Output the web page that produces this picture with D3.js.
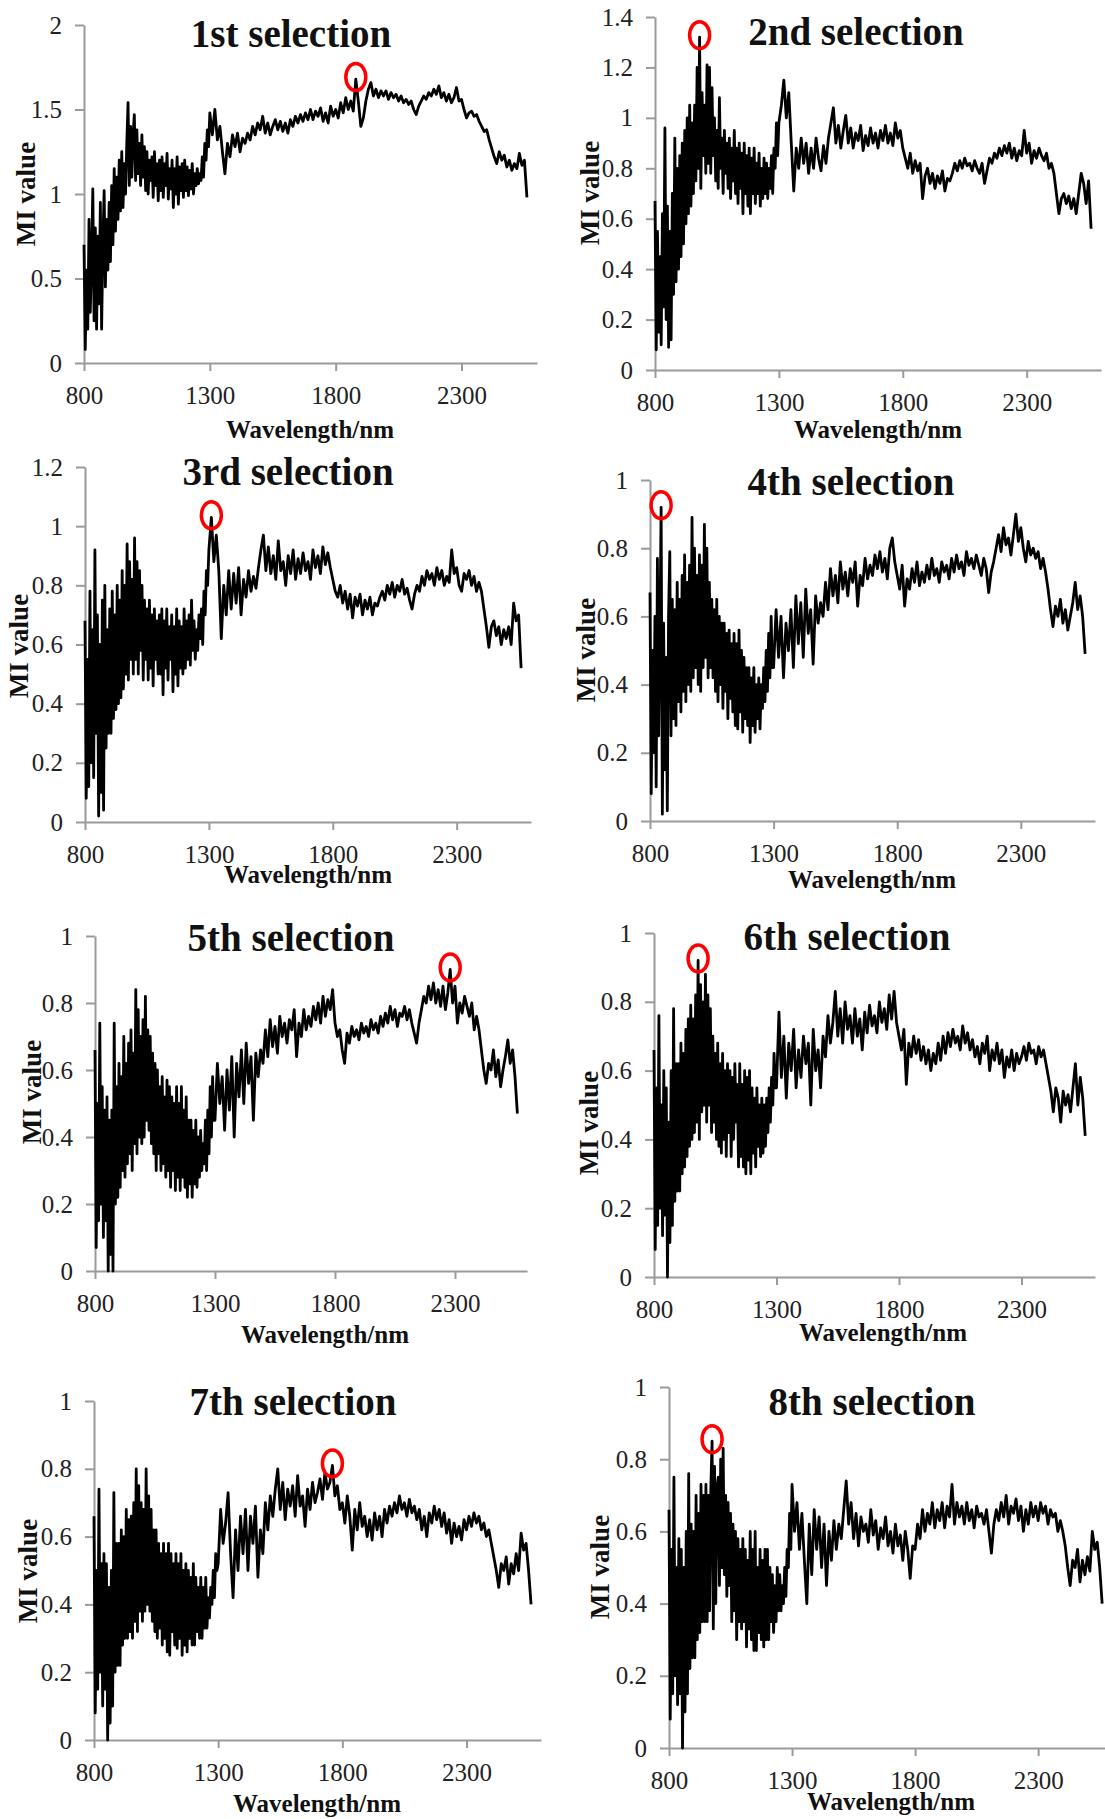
<!DOCTYPE html>
<meta charset="utf-8">
<head>
<style>
body { margin: 0; background: #fff; }
svg { display: block; }
.axis path, .axis line { stroke: #9a9a9a; stroke-width: 2px; }
.axis text { font-family: "Liberation Serif", "Times New Roman", serif; font-size: 25px; fill: #222; }
.title { font-family: "Liberation Serif", "Times New Roman", serif; font-size: 39px; font-weight: bold; fill: #111; }
.lab { font-family: "Liberation Serif", "Times New Roman", serif; font-weight: bold; fill: #111; }
.serie { fill: none; stroke: #000; stroke-width: 2.8px; stroke-linejoin: round; }
.pick { fill: none; stroke: #f00; stroke-width: 3.5px; }
</style>
</head>
<body>
<script src="https://cdnjs.cloudflare.com/ajax/libs/d3/7.8.5/d3.min.js"></script>
<svg id="chart" width="1105" height="1819"></svg>

<script>

// wavelength grid, nm: 5 nm steps below 1300, 10 nm above
var waves = d3.range(800, 1300, 5).concat(d3.range(1300, 2561, 10));
var xTicks = [800, 1300, 1800, 2300];

var titles = ["1st selection", "2nd selection", "3rd selection", "4th selection",
              "5th selection", "6th selection", "7th selection", "8th selection"];
var yMax = [2, 1.4, 1.2, 1, 1, 1, 1, 1];
var yStep = [0.5, 0.2, 0.2, 0.2, 0.2, 0.2, 0.2, 0.2];
// wavelength picked in each round (red circle)
var picks = [1880, 980, 1310, 845, 2280, 980, 1760, 975];

// MI values, one per wavelength
var s1 = [0.70, 0.08, 0.55, 0.20, 0.85, 0.30, 0.62, 1.03, 0.25, 0.80,
  0.20, 0.75, 0.35, 0.95, 0.20, 0.70, 1.02, 0.45, 0.85, 0.55,
  0.95, 0.60, 1.05, 0.70, 1.15, 0.78, 1.10, 0.85, 1.20, 0.90,
  1.25, 0.92, 1.18, 1.00, 1.30, 1.54, 1.05, 1.40, 1.10, 1.35,
  1.47, 1.08, 1.38, 1.12, 1.30, 1.05, 1.35, 1.10, 1.28, 1.02,
  1.25, 1.00, 1.20, 1.08, 1.22, 0.98, 1.25, 1.05, 1.18, 0.96,
  1.20, 1.02, 1.22, 0.98, 1.18, 1.05, 1.24, 0.97, 1.15, 1.03,
  1.20, 0.92, 1.15, 1.00, 1.22, 0.94, 1.16, 1.02, 1.18, 0.98,
  1.20, 1.02, 1.16, 0.99, 1.14, 1.03, 1.18, 1.00, 1.12, 1.05,
  1.15, 1.06, 1.12, 1.08, 1.22, 1.10, 1.30, 1.20, 1.38, 1.28,
  1.48, 1.35, 1.50, 1.32, 1.40, 1.25, 1.12, 1.30, 1.22, 1.35,
  1.28, 1.36, 1.25, 1.33, 1.30, 1.36, 1.32, 1.40, 1.35, 1.42,
  1.38, 1.46, 1.36, 1.42, 1.35, 1.40, 1.44, 1.38, 1.43, 1.37,
  1.42, 1.36, 1.44, 1.40, 1.46, 1.42, 1.47, 1.43, 1.48, 1.44,
  1.50, 1.44, 1.49, 1.46, 1.51, 1.43, 1.48, 1.42, 1.52, 1.46,
  1.50, 1.45, 1.54, 1.48, 1.57, 1.50, 1.55, 1.49, 1.68, 1.55,
  1.40, 1.45, 1.55, 1.62, 1.66, 1.58, 1.62, 1.57, 1.61, 1.58,
  1.61, 1.56, 1.60, 1.57, 1.59, 1.55, 1.58, 1.54, 1.56, 1.53,
  1.55, 1.50, 1.47, 1.52, 1.55, 1.58, 1.56, 1.60, 1.58, 1.62,
  1.59, 1.64, 1.57, 1.60, 1.55, 1.59, 1.54, 1.57, 1.63, 1.55,
  1.56, 1.50, 1.45, 1.48, 1.49, 1.46, 1.47, 1.43, 1.40, 1.37,
  1.38, 1.32, 1.27, 1.22, 1.18, 1.25, 1.20, 1.23, 1.16, 1.20,
  1.14, 1.18, 1.15, 1.24, 1.17, 1.20, 0.98];

var s2 = [0.67, 0.08, 0.55, 0.15, 0.45, 0.10, 0.62, 0.25, 0.96, 0.20,
  0.65, 0.09, 0.55, 0.12, 0.70, 0.30, 0.92, 0.35, 0.80, 0.40,
  0.85, 0.45, 0.90, 0.50, 0.95, 0.58, 1.00, 0.62, 1.05, 0.65,
  0.98, 0.70, 1.05, 0.75, 1.20, 0.80, 1.32, 0.72, 1.10, 0.85,
  1.05, 0.78, 1.21, 0.82, 1.20, 0.78, 1.12, 0.85, 1.00, 0.75,
  0.95, 0.72, 1.08, 0.80, 0.92, 0.70, 0.95, 0.78, 0.90, 0.72,
  0.92, 0.68, 0.88, 0.75, 0.95, 0.70, 0.88, 0.66, 0.90, 0.72,
  0.86, 0.62, 0.90, 0.70, 0.85, 0.65, 0.88, 0.62, 0.84, 0.70,
  0.88, 0.66, 0.82, 0.70, 0.86, 0.65, 0.80, 0.68, 0.84, 0.70,
  0.82, 0.68, 0.80, 0.72, 0.85, 0.70, 0.88, 0.80, 0.98, 0.85,
  0.98, 1.05, 1.15, 1.00, 1.10, 0.90, 0.71, 0.88, 0.80, 0.92,
  0.82, 0.90, 0.78, 0.88, 0.80, 0.92, 0.84, 0.79, 0.89, 0.82,
  0.92, 0.98, 1.04, 0.90, 0.97, 0.88, 0.95, 1.01, 0.90, 0.96,
  0.88, 0.94, 0.91, 0.97, 0.87, 0.93, 0.89, 0.96, 0.90, 0.94,
  0.88, 0.95, 0.91, 0.97, 0.90, 0.94, 0.89, 0.98, 0.92, 0.95,
  0.88, 0.84, 0.80, 0.86, 0.78, 0.83, 0.79, 0.82, 0.68, 0.77,
  0.80, 0.74, 0.78, 0.72, 0.77, 0.74, 0.79, 0.71, 0.76, 0.75,
  0.78, 0.82, 0.79, 0.83, 0.80, 0.84, 0.81, 0.82, 0.79, 0.83,
  0.80, 0.78, 0.82, 0.74, 0.79, 0.84, 0.82, 0.86, 0.84, 0.88,
  0.85, 0.89, 0.86, 0.90, 0.84, 0.88, 0.83, 0.87, 0.85, 0.95,
  0.86, 0.90, 0.82, 0.87, 0.84, 0.88, 0.85, 0.83, 0.86, 0.80,
  0.82, 0.78, 0.70, 0.62, 0.68, 0.70, 0.66, 0.69, 0.64, 0.68,
  0.62, 0.70, 0.78, 0.74, 0.66, 0.75, 0.56];

var s3 = [0.68, 0.08, 0.55, 0.12, 0.78, 0.20, 0.65, 0.15, 0.92, 0.30,
  0.70, 0.02, 0.60, 0.10, 0.75, 0.04, 0.80, 0.25, 0.65, 0.30,
  0.72, 0.30, 0.78, 0.35, 0.70, 0.38, 0.80, 0.40, 0.75, 0.42,
  0.85, 0.45, 0.80, 0.50, 0.94, 0.48, 0.88, 0.55, 0.82, 0.50,
  0.96, 0.55, 0.88, 0.50, 0.85, 0.58, 0.80, 0.48, 0.75, 0.55,
  0.72, 0.48, 0.75, 0.52, 0.70, 0.46, 0.72, 0.55, 0.68, 0.50,
  0.70, 0.50, 0.72, 0.43, 0.68, 0.52, 0.72, 0.48, 0.66, 0.55,
  0.70, 0.44, 0.66, 0.50, 0.72, 0.46, 0.68, 0.52, 0.66, 0.50,
  0.72, 0.52, 0.68, 0.55, 0.70, 0.53, 0.75, 0.58, 0.68, 0.55,
  0.65, 0.58, 0.70, 0.62, 0.72, 0.60, 0.78, 0.70, 0.85, 0.80,
  0.92, 1.03, 0.88, 0.97, 0.85, 0.62, 0.80, 0.70, 0.85, 0.72,
  0.84, 0.74, 0.86, 0.70, 0.82, 0.76, 0.85, 0.78, 0.83, 0.79,
  0.86, 0.92, 0.97, 0.85, 0.93, 0.84, 0.90, 0.82, 0.95, 0.85,
  0.88, 0.80, 0.90, 0.84, 0.92, 0.82, 0.89, 0.84, 0.91, 0.85,
  0.88, 0.82, 0.92, 0.86, 0.90, 0.84, 0.93, 0.87, 0.91, 0.86,
  0.82, 0.78, 0.76, 0.80, 0.74, 0.78, 0.72, 0.77, 0.69, 0.76,
  0.73, 0.77, 0.70, 0.75, 0.72, 0.76, 0.70, 0.74, 0.73, 0.76,
  0.78, 0.75, 0.80, 0.77, 0.81, 0.76, 0.80, 0.78, 0.82, 0.77,
  0.79, 0.75, 0.72, 0.77, 0.80, 0.78, 0.83, 0.80, 0.85, 0.82,
  0.84, 0.80, 0.86, 0.82, 0.85, 0.80, 0.83, 0.81, 0.92, 0.84,
  0.86, 0.80, 0.78, 0.84, 0.82, 0.85, 0.80, 0.83, 0.78, 0.81,
  0.78, 0.72, 0.66, 0.59, 0.66, 0.68, 0.63, 0.66, 0.60, 0.65,
  0.62, 0.66, 0.60, 0.74, 0.68, 0.70, 0.52];

var s4 = [0.67, 0.08, 0.50, 0.20, 0.60, 0.10, 0.77, 0.25, 0.55, 0.92,
  0.02, 0.58, 0.15, 0.48, 0.03, 0.60, 0.79, 0.25, 0.65, 0.30,
  0.62, 0.28, 0.70, 0.35, 0.65, 0.32, 0.72, 0.38, 0.78, 0.35,
  0.70, 0.40, 0.75, 0.38, 0.89, 0.42, 0.80, 0.45, 0.72, 0.40,
  0.78, 0.38, 0.75, 0.45, 0.87, 0.48, 0.80, 0.42, 0.70, 0.45,
  0.65, 0.42, 0.62, 0.38, 0.65, 0.35, 0.60, 0.40, 0.58, 0.33,
  0.58, 0.38, 0.55, 0.30, 0.56, 0.36, 0.52, 0.32, 0.55, 0.28,
  0.52, 0.27, 0.56, 0.32, 0.50, 0.26, 0.48, 0.30, 0.45, 0.28,
  0.45, 0.23, 0.42, 0.28, 0.45, 0.26, 0.40, 0.30, 0.42, 0.27,
  0.40, 0.33, 0.45, 0.35, 0.50, 0.38, 0.55, 0.42, 0.60, 0.45,
  0.45, 0.62, 0.48, 0.60, 0.42, 0.58, 0.50, 0.62, 0.45, 0.66,
  0.52, 0.64, 0.48, 0.68, 0.55, 0.62, 0.46, 0.66, 0.58, 0.64,
  0.60, 0.70, 0.62, 0.74, 0.66, 0.72, 0.64, 0.76, 0.68, 0.73,
  0.66, 0.74, 0.70, 0.76, 0.63, 0.72, 0.69, 0.77, 0.71, 0.75,
  0.72, 0.78, 0.74, 0.79, 0.73, 0.77, 0.71, 0.80, 0.83, 0.76,
  0.72, 0.68, 0.75, 0.63, 0.71, 0.68, 0.74, 0.70, 0.76, 0.69,
  0.73, 0.70, 0.75, 0.71, 0.77, 0.72, 0.74, 0.70, 0.76, 0.73,
  0.75, 0.71, 0.77, 0.73, 0.78, 0.74, 0.76, 0.72, 0.79, 0.75,
  0.77, 0.74, 0.78, 0.75, 0.72, 0.77, 0.74, 0.67, 0.73, 0.76,
  0.80, 0.84, 0.79, 0.86, 0.81, 0.83, 0.78, 0.84, 0.90, 0.82,
  0.86, 0.80, 0.76, 0.82, 0.78, 0.80, 0.77, 0.79, 0.74, 0.77,
  0.73, 0.68, 0.62, 0.57, 0.63, 0.60, 0.65, 0.58, 0.62, 0.56,
  0.60, 0.64, 0.70, 0.62, 0.66, 0.60, 0.49];

var s5 = [0.66, 0.07, 0.50, 0.15, 0.74, 0.20, 0.55, 0.10, 0.48, 0.15,
  0.52, 0.00, 0.45, 0.05, 0.48, 0.00, 0.74, 0.20, 0.55, 0.22,
  0.62, 0.25, 0.58, 0.30, 0.70, 0.28, 0.62, 0.32, 0.68, 0.35,
  0.72, 0.30, 0.65, 0.38, 0.84, 0.35, 0.78, 0.40, 0.70, 0.38,
  0.75, 0.40, 0.82, 0.45, 0.72, 0.42, 0.70, 0.38, 0.65, 0.35,
  0.62, 0.30, 0.60, 0.35, 0.55, 0.30, 0.58, 0.32, 0.52, 0.28,
  0.57, 0.30, 0.55, 0.25, 0.52, 0.30, 0.50, 0.24, 0.55, 0.28,
  0.50, 0.24, 0.55, 0.28, 0.48, 0.25, 0.52, 0.22, 0.45, 0.26,
  0.45, 0.22, 0.42, 0.26, 0.45, 0.25, 0.40, 0.28, 0.42, 0.30,
  0.38, 0.32, 0.45, 0.30, 0.48, 0.35, 0.55, 0.40, 0.58, 0.45,
  0.45, 0.62, 0.50, 0.58, 0.42, 0.60, 0.48, 0.64, 0.40, 0.62,
  0.52, 0.66, 0.50, 0.68, 0.56, 0.64, 0.45, 0.65, 0.58, 0.66,
  0.62, 0.72, 0.64, 0.75, 0.67, 0.73, 0.65, 0.76, 0.70, 0.74,
  0.68, 0.75, 0.72, 0.78, 0.64, 0.74, 0.70, 0.78, 0.72, 0.76,
  0.73, 0.79, 0.75, 0.80, 0.74, 0.82, 0.76, 0.81, 0.78, 0.84,
  0.74, 0.70, 0.72, 0.66, 0.62, 0.71, 0.68, 0.73, 0.70, 0.72,
  0.69, 0.74, 0.71, 0.73, 0.70, 0.75, 0.72, 0.74, 0.71, 0.76,
  0.73, 0.77, 0.74, 0.79, 0.75, 0.78, 0.73, 0.77, 0.76, 0.79,
  0.75, 0.78, 0.74, 0.71, 0.68, 0.74, 0.78, 0.82, 0.80, 0.85,
  0.81, 0.86, 0.80, 0.84, 0.79, 0.85, 0.78, 0.83, 0.90, 0.80,
  0.85, 0.74, 0.80, 0.77, 0.82, 0.79, 0.76, 0.80, 0.72, 0.76,
  0.72, 0.66, 0.60, 0.56, 0.62, 0.60, 0.66, 0.58, 0.63, 0.55,
  0.60, 0.64, 0.69, 0.62, 0.66, 0.58, 0.47];

var s6 = [0.66, 0.08, 0.55, 0.15, 0.76, 0.20, 0.50, 0.12, 0.60, 0.18,
  0.55, 0.00, 0.45, 0.10, 0.60, 0.15, 0.78, 0.22, 0.62, 0.25,
  0.62, 0.25, 0.68, 0.30, 0.65, 0.32, 0.72, 0.35, 0.75, 0.38,
  0.79, 0.40, 0.75, 0.42, 0.82, 0.45, 0.92, 0.40, 0.85, 0.48,
  0.80, 0.50, 0.88, 0.45, 0.82, 0.50, 0.78, 0.42, 0.70, 0.45,
  0.65, 0.40, 0.68, 0.38, 0.62, 0.36, 0.65, 0.40, 0.60, 0.35,
  0.62, 0.42, 0.60, 0.35, 0.58, 0.40, 0.62, 0.45, 0.56, 0.32,
  0.62, 0.35, 0.56, 0.32, 0.60, 0.30, 0.58, 0.34, 0.60, 0.30,
  0.55, 0.36, 0.52, 0.32, 0.55, 0.38, 0.50, 0.35, 0.52, 0.36,
  0.50, 0.38, 0.52, 0.42, 0.55, 0.45, 0.58, 0.50, 0.65, 0.55,
  0.55, 0.77, 0.58, 0.70, 0.52, 0.68, 0.60, 0.72, 0.55, 0.66,
  0.58, 0.70, 0.62, 0.68, 0.50, 0.72, 0.60, 0.66, 0.55, 0.70,
  0.64, 0.76, 0.68, 0.74, 0.83, 0.70, 0.78, 0.68, 0.80, 0.72,
  0.76, 0.68, 0.78, 0.70, 0.75, 0.66, 0.77, 0.71, 0.79, 0.73,
  0.76, 0.71, 0.80, 0.74, 0.78, 0.72, 0.82, 0.75, 0.83, 0.74,
  0.70, 0.66, 0.72, 0.56, 0.68, 0.64, 0.70, 0.65, 0.69, 0.63,
  0.67, 0.62, 0.66, 0.60, 0.65, 0.62, 0.68, 0.63, 0.70, 0.65,
  0.71, 0.67, 0.72, 0.68, 0.70, 0.66, 0.73, 0.68, 0.71, 0.66,
  0.69, 0.64, 0.67, 0.62, 0.68, 0.65, 0.70, 0.60, 0.66, 0.63,
  0.68, 0.62, 0.66, 0.58, 0.64, 0.61, 0.66, 0.60, 0.65, 0.62,
  0.64, 0.67, 0.63, 0.68, 0.65, 0.66, 0.62, 0.67, 0.64, 0.66,
  0.62, 0.58, 0.54, 0.48, 0.55, 0.52, 0.45, 0.54, 0.50, 0.53,
  0.48, 0.55, 0.62, 0.50, 0.58, 0.52, 0.41];

var s7 = [0.66, 0.08, 0.50, 0.15, 0.74, 0.20, 0.52, 0.10, 0.55, 0.15,
  0.52, 0.00, 0.45, 0.05, 0.50, 0.10, 0.73, 0.20, 0.58, 0.22,
  0.58, 0.22, 0.62, 0.28, 0.60, 0.30, 0.68, 0.30, 0.65, 0.32,
  0.66, 0.30, 0.70, 0.35, 0.80, 0.32, 0.75, 0.38, 0.70, 0.35,
  0.68, 0.38, 0.80, 0.40, 0.72, 0.38, 0.68, 0.35, 0.62, 0.32,
  0.62, 0.30, 0.58, 0.33, 0.55, 0.28, 0.58, 0.30, 0.55, 0.26,
  0.58, 0.25, 0.55, 0.32, 0.52, 0.28, 0.55, 0.27, 0.52, 0.30,
  0.55, 0.25, 0.50, 0.28, 0.52, 0.26, 0.50, 0.30, 0.48, 0.28,
  0.52, 0.28, 0.48, 0.32, 0.45, 0.30, 0.48, 0.30, 0.45, 0.33,
  0.48, 0.33, 0.42, 0.36, 0.45, 0.40, 0.50, 0.42, 0.55, 0.50,
  0.52, 0.68, 0.58, 0.64, 0.73, 0.55, 0.42, 0.62, 0.50, 0.66,
  0.55, 0.68, 0.50, 0.66, 0.58, 0.69, 0.48, 0.62, 0.55, 0.70,
  0.62, 0.72, 0.66, 0.74, 0.80, 0.68, 0.76, 0.65, 0.74, 0.69,
  0.75, 0.66, 0.78, 0.69, 0.72, 0.63, 0.74, 0.68, 0.76, 0.70,
  0.73, 0.77, 0.71, 0.79, 0.74, 0.76, 0.81, 0.72, 0.75, 0.68,
  0.70, 0.64, 0.72, 0.66, 0.56, 0.68, 0.62, 0.70, 0.63, 0.66,
  0.60, 0.65, 0.59, 0.67, 0.62, 0.66, 0.60, 0.68, 0.64, 0.69,
  0.66, 0.70, 0.67, 0.72, 0.68, 0.70, 0.66, 0.71, 0.67, 0.69,
  0.65, 0.68, 0.62, 0.66, 0.60, 0.67, 0.64, 0.69, 0.65, 0.68,
  0.63, 0.67, 0.61, 0.65, 0.58, 0.64, 0.60, 0.63, 0.59, 0.65,
  0.62, 0.66, 0.63, 0.67, 0.64, 0.66, 0.62, 0.64, 0.60, 0.62,
  0.58, 0.54, 0.50, 0.45, 0.52, 0.50, 0.54, 0.46, 0.52, 0.49,
  0.55, 0.50, 0.61, 0.56, 0.58, 0.50, 0.40];

var s8 = [0.66, 0.08, 0.55, 0.15, 0.75, 0.20, 0.50, 0.12, 0.58, 0.15,
  0.55, 0.00, 0.50, 0.10, 0.60, 0.15, 0.76, 0.22, 0.62, 0.25,
  0.60, 0.25, 0.70, 0.30, 0.65, 0.32, 0.73, 0.35, 0.70, 0.35,
  0.73, 0.35, 0.70, 0.38, 0.72, 0.85, 0.33, 0.78, 0.40, 0.72,
  0.75, 0.45, 0.80, 0.50, 0.83, 0.48, 0.70, 0.42, 0.68, 0.45,
  0.65, 0.35, 0.62, 0.38, 0.60, 0.30, 0.58, 0.35, 0.55, 0.33,
  0.58, 0.35, 0.55, 0.28, 0.52, 0.33, 0.60, 0.30, 0.55, 0.27,
  0.60, 0.27, 0.50, 0.32, 0.55, 0.30, 0.52, 0.28, 0.55, 0.30,
  0.55, 0.30, 0.50, 0.35, 0.48, 0.32, 0.45, 0.35, 0.50, 0.38,
  0.48, 0.38, 0.45, 0.40, 0.50, 0.42, 0.55, 0.50, 0.65, 0.55,
  0.73, 0.60, 0.68, 0.55, 0.65, 0.52, 0.40, 0.62, 0.48, 0.66,
  0.55, 0.64, 0.50, 0.62, 0.45, 0.60, 0.52, 0.63, 0.55, 0.62,
  0.58, 0.66, 0.74, 0.62, 0.68, 0.58, 0.65, 0.56, 0.64, 0.60,
  0.62, 0.57, 0.66, 0.59, 0.63, 0.55, 0.61, 0.58, 0.64, 0.56,
  0.60, 0.54, 0.62, 0.56, 0.59, 0.52, 0.60, 0.55, 0.47, 0.56,
  0.55, 0.62, 0.58, 0.66, 0.60, 0.65, 0.62, 0.68, 0.61, 0.66,
  0.63, 0.68, 0.61, 0.67, 0.64, 0.73, 0.62, 0.68, 0.64, 0.67,
  0.62, 0.68, 0.63, 0.66, 0.61, 0.67, 0.64, 0.65, 0.62, 0.66,
  0.60, 0.54, 0.62, 0.66, 0.63, 0.68, 0.64, 0.70, 0.62, 0.67,
  0.65, 0.69, 0.63, 0.67, 0.60, 0.66, 0.62, 0.68, 0.64, 0.67,
  0.63, 0.68, 0.65, 0.67, 0.62, 0.66, 0.64, 0.65, 0.60, 0.63,
  0.60, 0.56, 0.50, 0.45, 0.52, 0.50, 0.55, 0.46, 0.52, 0.48,
  0.53, 0.49, 0.60, 0.55, 0.57, 0.50, 0.40];

var series = [s1, s2, s3, s4, s5, s6, s7, s8];

// where each small chart sits on the page
var layout = [
  {left: 84,  right: 537,  top: 25,   bottom: 363,  tx: 291, ty: 47,   ylx: 26,  yly: 194,  xlx: 310, xly: 438},
  {left: 655, right: 1101, top: 17,   bottom: 370,  tx: 856, ty: 45,   ylx: 590, yly: 193,  xlx: 878, xly: 438},
  {left: 85,  right: 531,  top: 467,  bottom: 822,  tx: 288, ty: 485,  ylx: 19,  yly: 646,  xlx: 308, xly: 883},
  {left: 650, right: 1095, top: 480,  bottom: 821,  tx: 851, ty: 495,  ylx: 586, yly: 650,  xlx: 872, xly: 888},
  {left: 95,  right: 527,  top: 936,  bottom: 1271, tx: 291, ty: 951,  ylx: 32,  yly: 1092, xlx: 325, xly: 1343},
  {left: 654, right: 1095, top: 933,  bottom: 1277, tx: 847, ty: 950,  ylx: 589, yly: 1123, xlx: 883, xly: 1341},
  {left: 94,  right: 541,  top: 1401, bottom: 1740, tx: 293, ty: 1415, ylx: 28,  yly: 1571, xlx: 317, xly: 1812},
  {left: 669, right: 1112, top: 1387, bottom: 1748, tx: 872, ty: 1415, ylx: 600, yly: 1567, xlx: 891, xly: 1810}
];

var svg = d3.select("#chart");
svg.append("rect").attr("width", 1105).attr("height", 1819).attr("fill", "#fff");

series.forEach(function(vals, k) {
  var L = layout[k];
  var x = d3.scaleLinear().domain([800, 2600]).range([L.left, L.right]);
  var y = d3.scaleLinear().domain([0, yMax[k]]).range([L.bottom, L.top]);
  var n = Math.round(yMax[k] / yStep[k]);
  var yTicks = d3.range(0, n + 1).map(function(i) { return +(i * yStep[k]).toFixed(1); });

  var g = svg.append("g");

  g.append("g")
      .attr("class", "axis axis--y")
      .attr("transform", "translate(" + L.left + ",0)")
      .call(d3.axisLeft(y).tickValues(yTicks).tickSize(9).tickSizeOuter(0).tickPadding(13)
        .tickFormat(function(d) { return String(d); }));

  g.append("g")
      .attr("class", "axis axis--x")
      .attr("transform", "translate(0," + L.bottom + ")")
      .call(d3.axisBottom(x).tickValues(xTicks).tickSize(8).tickSizeOuter(0).tickPadding(15)
        .tickFormat(d3.format("d")));

  var line = d3.line()
      .x(function(d, i) { return x(waves[i]); })
      .y(function(d) { return y(d); });

  g.append("path")
      .datum(vals)
      .attr("class", "serie")
      .attr("d", line);

  var pi = waves.indexOf(picks[k]);
  g.append("ellipse")
      .attr("class", "pick")
      .attr("cx", x(picks[k]))
      .attr("cy", y(vals[pi]) - 2)
      .attr("rx", 10)
      .attr("ry", 13.5);

  g.append("text")
      .attr("class", "title")
      .attr("x", L.tx)
      .attr("y", L.ty)
      .attr("text-anchor", "middle")
      .text(titles[k]);

  g.append("text")
      .attr("class", "lab")
      .attr("transform", "translate(" + L.ylx + "," + L.yly + ") rotate(-90)")
      .attr("dy", "0.35em")
      .attr("text-anchor", "middle")
      .style("font-size", "27px")
      .text("MI value");

  g.append("text")
      .attr("class", "lab")
      .attr("x", L.xlx)
      .attr("y", L.xly)
      .attr("text-anchor", "middle")
      .style("font-size", "25px")
      .text("Wavelength/nm");
});
</script>
</body>
</html>
